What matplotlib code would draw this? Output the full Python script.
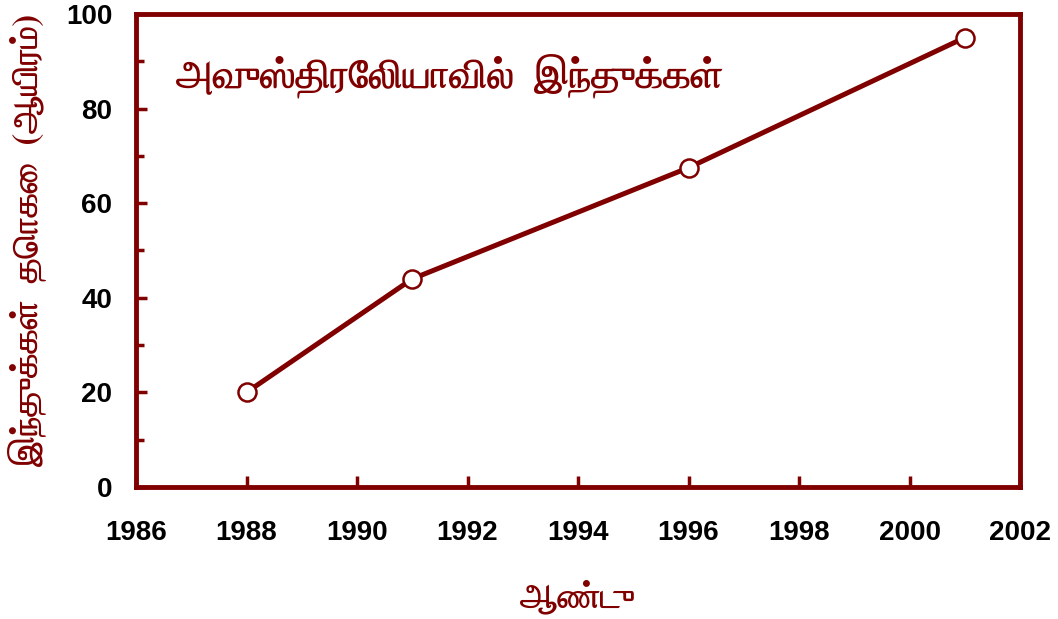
import matplotlib
matplotlib.use("Agg")
import matplotlib.pyplot as plt
from matplotlib import font_manager as fm
from matplotlib.ft2font import FT2Font
from matplotlib.ticker import MultipleLocator
import matplotlib.patheffects as pe

years = [1988, 1991, 1996, 2001]
hindus_thousands = [20, 44, 67.5, 95]
x_ticks = [1986, 1988, 1990, 1992, 1994, 1996, 1998, 2000, 2002]
y_ticks = [0, 20, 40, 60, 80, 100]
title_text = "அவுஸ்திரேலியாவில்  இந்துக்கள்"
ylabel_text = "இந்துக்கள்  தொகை  (ஆயிரம்)"
xlabel_text = "ஆண்டு"

RED = "#800000"


def find_tamil_family():
    found = []
    for f in fm.fontManager.ttflist:
        try:
            ft = FT2Font(f.fname)
            if ft.get_char_index(0x0B85) and ft.get_char_index(0x0BA4):
                w = f.weight if isinstance(f.weight, int) else 400
                found.append((f.name, w))
        except Exception:
            pass
    bold = [n for n, w in found if w >= 600]
    if bold:
        return bold[0], True
    if found:
        return found[0][0], False
    return None, False


tname, has_bold = find_tamil_family()
tamil_family = ([tname] if tname else []) + ["DejaVu Sans"]
num_family = ["Liberation Sans", "DejaVu Sans"]
tamil_fx = [] if has_bold else [pe.withStroke(linewidth=1.2, foreground=RED)]

fig = plt.figure(figsize=(10.58, 6.19), dpi=100)
ax = fig.add_axes([136 / 1058, 1 - 487 / 619, (1020 - 136) / 1058, (487 - 14) / 619])

ax.plot(years, hindus_thousands, color=RED, lw=3.6, marker="o", ms=13,
        mfc="white", mec=RED, mew=1.8, zorder=3, clip_on=False)

ax.set_xlim(1986, 2002)
ax.set_ylim(0, 100)
ax.set_xticks(x_ticks)
ax.set_yticks(y_ticks)
ax.yaxis.set_minor_locator(MultipleLocator(10))

for s in ax.spines.values():
    s.set_color(RED)
    s.set_linewidth(3.5)

ax.tick_params(axis="both", which="major", direction="in", length=8, width=2.5,
               color=RED, labelsize=20)
ax.tick_params(axis="both", which="minor", direction="in", length=6, width=2.5,
               color=RED)
ax.tick_params(axis="x", pad=24)
ax.tick_params(axis="y", pad=17)
for lab in ax.get_xticklabels() + ax.get_yticklabels():
    lab.set_fontfamily(num_family)
    lab.set_fontweight("bold")
    lab.set_color("black")

ax.text(0.045, 0.87, title_text, transform=ax.transAxes, fontsize=29,
        color=RED, family=tamil_family, fontweight="bold", va="center", ha="left",
        path_effects=tamil_fx)

fig.text(577 / 1058, 1 - 597 / 619, xlabel_text, fontsize=25, color=RED,
         family=tamil_family, fontweight="bold", ha="center", va="center",
         path_effects=tamil_fx)
fig.text(27 / 1058, 1 - 240 / 619, ylabel_text, fontsize=25.5, color=RED,
         family=tamil_family, fontweight="bold", ha="center", va="center",
         rotation=90, path_effects=tamil_fx)

fig.savefig("out.png", dpi=100)
